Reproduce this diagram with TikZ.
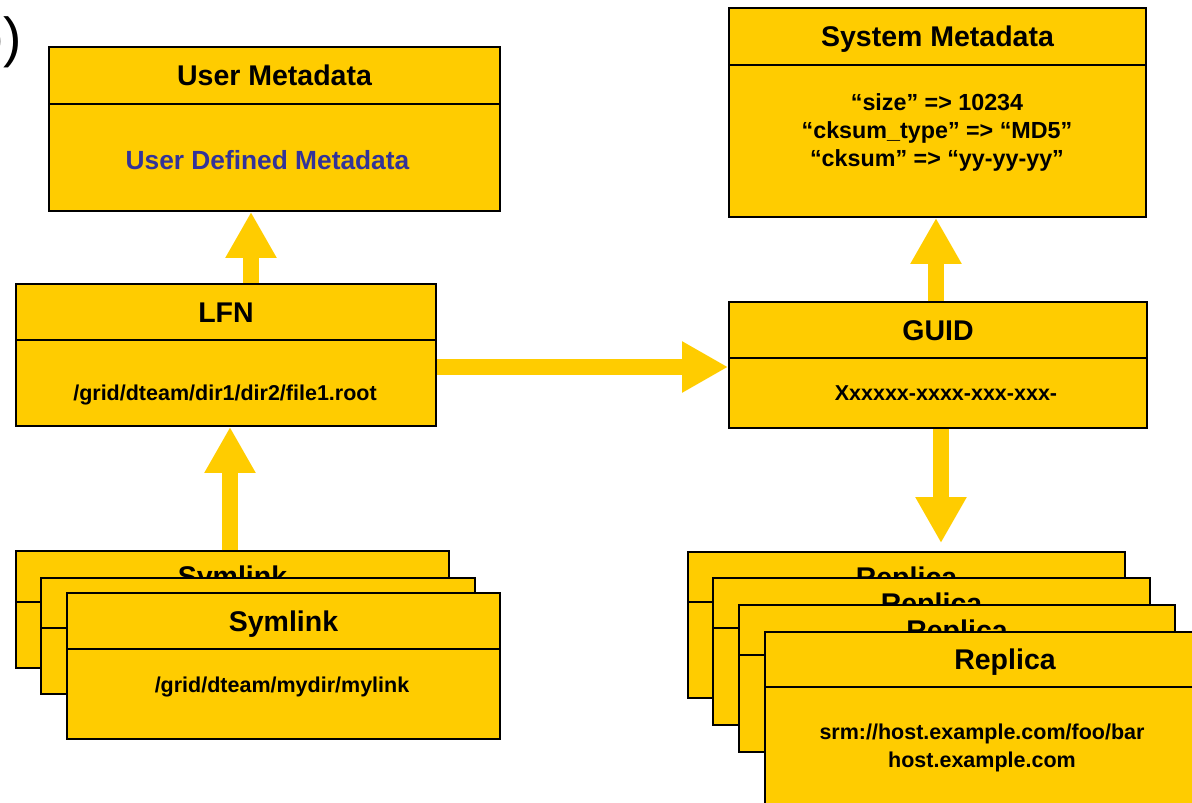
\documentclass[tikz,border=0pt]{standalone}
\usepackage{fontspec}
\setmainfont{Liberation Sans}
\usepackage{xcolor}
\usetikzlibrary{arrows.meta}

\definecolor{gold}{HTML}{FFCC00}
\definecolor{textblue}{HTML}{333399}

\tikzset{
  box/.style={draw=black, line width=1.8pt, fill=gold, inner sep=0pt},
  sep/.style={line width=1.3pt},
  title/.style={inner sep=0pt, text height=20.5pt, text depth=0pt, font=\fontsize{28.5}{34}\selectfont\bfseries},
  body/.style={inner sep=0pt, align=center, font=\fontsize{21.5}{28}\selectfont\bfseries},
  bigarrow/.style={draw=gold, line width=16pt, -{Triangle[width=48pt,length=46pt]}}
}

% name, left, top, right, bottom, header line, title
\newcommand{\entry}[7]{%
  \node[box, minimum width={#4-#2}, minimum height={#5-#3}] (#1) at ({(#2+#4)/2},{(#3+#5)/2}) {};
  \draw[sep] (#1.west |- 0,#6) -- (#1.east |- 0,#6);
  \node[title] (#1-t) at ({(#2+#4)/2},{(#3+#6)/2}) {#7};
}

\begin{document}
\begin{tikzpicture}[x=1pt,y=-1pt]
    \useasboundingbox (0,0) rectangle (1192,803);
    \node[inner sep=0pt, anchor=base east, font=\fontsize{55}{62}\selectfont] (tag) at (22,56) {b)};

    \entry{umeta}{49}{47}{500}{211}{104}{User Metadata}
    \node[body, text=textblue, font=\fontsize{26.3}{32}\selectfont\bfseries] (umeta-b) at (267.5,160) {User Defined Metadata};

    \entry{lfn}{16}{284}{436}{426}{340}{LFN}
    \node[body] (lfn-b) at (225,395) {/grid/dteam/dir1/dir2/file1.root};

    \entry{smeta}{729}{8}{1146}{217}{65}{System Metadata}
    \node[body, font=\fontsize{23.3}{28}\selectfont\bfseries] (smeta-b) at (937,132) {“size” => 10234\\“cksum\_type” => “MD5”\\“cksum” => “yy-yy-yy”};

    \entry{guid}{729}{302}{1147}{428}{358}{GUID}
    \node[body] (guid-b) at (946,393) {Xxxxxx-xxxx-xxx-xxx-};

    % symlinks
    \entry{sym1}{16}{551}{449}{668}{602}{Symlink}
    \entry{sym2}{41}{578}{475}{694}{628}{Symlink}
    \entry{sym3}{67}{593}{500}{739}{649}{Symlink}
    \node[body] (sym3-b) at (282,687) {/grid/dteam/mydir/mylink};

    % replicas
    \entry{rep1}{688}{552}{1125}{698}{602}{Replica}
    \entry{rep2}{713}{578}{1150}{725}{628}{Replica}
    \entry{rep3}{739}{605}{1175}{752}{655}{Replica}
    \entry{rep4}{765}{632}{1245}{830}{687}{Replica}
    \node[body] (rep4-b) at (982,748) {srm://host.example.com/foo/bar\\host.example.com};

    \draw[bigarrow] (lfn.north -| 251,0) -- (umeta.south -| 251,0);
    \draw[bigarrow] (sym1.north -| 230,0) -- (lfn.south -| 230,0);
    \draw[bigarrow] (lfn.east |- 0,367) -- (guid.west |- 0,367);
    \draw[bigarrow] (guid.north -| 936,0) -- (smeta.south -| 936,0);
    \draw[bigarrow, shorten >=8pt] (guid.south -| 941,0) -- (rep1.north -| 941,0);
\end{tikzpicture}
\end{document}
